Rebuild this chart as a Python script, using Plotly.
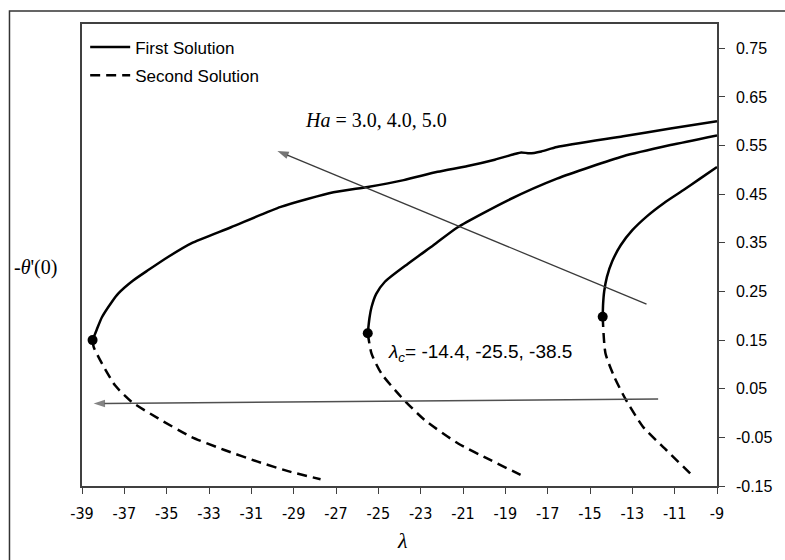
import plotly.graph_objects as go

# Critical (turning-point) values of lambda for Ha = 5.0, 4.0, 3.0
lambda_c = [-14.4, -25.5, -38.5]

# Ha = 3.0 : first (upper) and second (lower) solution branches
lam_first_ha3 = [-38.5, -38.3, -38.06, -37.6, -37.28, -36.6, -35.87, -34.9, -33.84,
                 -31.96, -29.61, -27.12, -25.5, -23.8, -22.2, -20.78, -19.5, -18.6,
                 -18.25, -17.85, -17.3, -16.56, -13.43, -11.2, -9.0]
th_first_ha3 = [0.150, 0.172, 0.197, 0.228, 0.246, 0.272, 0.294, 0.322, 0.349,
                0.382, 0.424, 0.454, 0.465, 0.479, 0.496, 0.508, 0.521, 0.532,
                0.536, 0.534, 0.538, 0.547, 0.569, 0.585, 0.600]
lam_second_ha3 = [-38.5, -38.45, -38.06, -37.44, -36.65, -35.4, -33.84, -32.27, -30.7, -29.14, -27.73]
th_second_ha3 = [0.150, 0.136, 0.102, 0.057, 0.023, -0.011, -0.049, -0.076, -0.100, -0.121, -0.136]

# Ha = 4.0
lam_first_ha4 = [-25.5, -25.42, -25.32, -25.1, -24.69, -23.6, -22.4, -21.25, -18.9,
                 -16.56, -13.43, -11.2, -9.0]
th_first_ha4 = [0.164, 0.195, 0.218, 0.245, 0.270, 0.307, 0.345, 0.382, 0.437,
                0.482, 0.528, 0.551, 0.571]
lam_second_ha4 = [-25.5, -25.32, -24.85, -23.92, -22.82, -21.25, -19.69, -18.28]
th_second_ha4 = [0.164, 0.122, 0.081, 0.033, -0.014, -0.062, -0.097, -0.127]

# Ha = 5.0
lam_first_ha5 = [-14.4, -14.38, -14.33, -14.2, -13.95, -13.55, -13.0, -12.3, -11.5, -10.6, -9.8, -9.0]
th_first_ha5 = [0.198, 0.225, 0.250, 0.280, 0.312, 0.345, 0.376, 0.405, 0.432, 0.458, 0.482, 0.506]
lam_second_ha5 = [-14.4, -14.27, -13.85, -13.3, -12.5, -11.4, -10.2]
th_second_ha5 = [0.198, 0.123, 0.074, 0.027, -0.028, -0.076, -0.127]

# Turning-point values of -theta'(0) at each lambda_c
th_c = [0.198, 0.164, 0.150]

# Direction arrows (tail -> head) for increasing Ha
ha_arrow_lam = [-12.33, -29.77]
ha_arrow_th = [0.224, 0.539]
lc_arrow_lam = [-11.78, -38.45]
lc_arrow_th = [0.0287, 0.0196]

x_ticks = list(range(-39, -8, 2))
x_tick_text = [str(v) for v in x_ticks]
y_ticks = [-0.15, -0.05, 0.05, 0.15, 0.25, 0.35, 0.45, 0.55, 0.65, 0.75]
y_tick_text = [f"{v:.2f}" for v in y_ticks]


def joined(*parts):
    out = []
    for i, p in enumerate(parts):
        if i:
            out.append(None)
        out.extend(p)
    return out


SANS = "Liberation Sans, Arial, sans-serif"
SERIF = "Liberation Serif, Times New Roman, serif"

fig = go.Figure()

fig.add_trace(go.Scatter(
    x=joined(lam_first_ha3, lam_first_ha4, lam_first_ha5),
    y=joined(th_first_ha3, th_first_ha4, th_first_ha5),
    mode="lines", name="First Solution", legendgroup="a",
    line=dict(color="black", width=2.5, shape="spline", smoothing=0.6),
    connectgaps=False,
))
fig.add_trace(go.Scatter(
    x=joined(lam_second_ha3, lam_second_ha4, lam_second_ha5),
    y=joined(th_second_ha3, th_second_ha4, th_second_ha5),
    mode="lines", name="Second Solution", legendgroup="b",
    line=dict(color="black", width=2.5, dash="10px,6px", shape="spline", smoothing=0.6),
    connectgaps=False,
))
fig.add_trace(go.Scatter(
    x=lambda_c, y=th_c, mode="markers", showlegend=False,
    marker=dict(color="black", size=10, symbol="circle"),
))

for ax_lam, ax_th, col, w in [(ha_arrow_lam, ha_arrow_th, "#3a3a3a", 1.3),
                              (lc_arrow_lam, lc_arrow_th, "#505050", 1.5)]:
    fig.add_trace(go.Scatter(
        x=ax_lam, y=ax_th, mode="lines+markers", showlegend=False, hoverinfo="skip",
        line=dict(color=col, width=w),
        marker=dict(symbol="arrow", size=[0, 12], angleref="previous", color=col,
                    line=dict(width=0)),
    ))

annotations = [
    dict(x=-25.1, y=0.6036, xref="x", yref="y", showarrow=False,
         text="<i>Ha</i> = 3.0, 4.0, 5.0", font=dict(family=SERIF, size=20, color="black"),
         xanchor="center", yanchor="middle"),
    dict(x=-20.22, y=0.123, xref="x", yref="y", showarrow=False,
         text="<i>λ</i><sub><i>c</i></sub>= -14.4, -25.5, -38.5",
         font=dict(family=SANS, size=19, color="black"),
         xanchor="center", yanchor="middle"),
    dict(x=-0.0728, y=0.472, xref="paper", yref="paper", showarrow=False,
         text="-<i>θ</i>'(0)", font=dict(family=SERIF, size=20, color="black"),
         xanchor="center", yanchor="middle"),
    dict(x=0.5055, y=-0.119, xref="paper", yref="paper", showarrow=False,
         text="<i>λ</i>", font=dict(family=SERIF, size=22, color="black"),
         xanchor="center", yanchor="middle"),
]

fig.update_layout(
    width=785, height=560,
    margin=dict(l=82, r=64, t=24, b=74),
    paper_bgcolor="white", plot_bgcolor="white",
    showlegend=True,
    legend=dict(x=0.005, y=0.988, xanchor="left", yanchor="top",
                font=dict(family=SANS, size=17, color="black"),
                bgcolor="rgba(0,0,0,0)", tracegroupgap=3, itemwidth=40),
    annotations=annotations,
    shapes=[dict(type="rect", xref="paper", yref="paper",
                 x0=-0.1142, y0=-0.17, x1=1.12, y1=1.028,
                 line=dict(color="#333333", width=1.5), fillcolor="rgba(0,0,0,0)")],
)

fig.update_xaxes(
    range=[-39, -9], tickvals=x_ticks, ticktext=x_tick_text,
    ticks="outside", ticklen=6, tickwidth=1.2,
    tickcolor="#404040", showline=True, linecolor="#404040", linewidth=1.5, mirror=True,
    showgrid=False, zeroline=False,
    tickfont=dict(family="Liberation Sans Narrow, Arial Narrow, DejaVu Sans Condensed, sans-serif",
                  size=16, color="black"),
    ticklabelstandoff=6,
)
fig.update_yaxes(
    range=[-0.15, 0.80], side="right", tickvals=y_ticks, ticktext=y_tick_text,
    ticks="outside", ticklen=6, tickwidth=1.2, tickcolor="#404040",
    showline=True, linecolor="#404040", linewidth=1.5, mirror=True,
    showgrid=False, zeroline=False,
    tickfont=dict(family=SANS, size=16, color="black"),
    ticklabelstandoff=8,
)

fig.write_html("out.html")
